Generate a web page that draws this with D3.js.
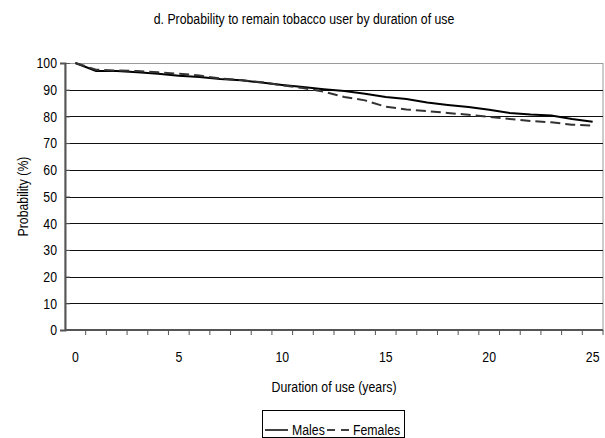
<!DOCTYPE html>
<html>
<head>
<meta charset="utf-8">
<script src="https://cdn.jsdelivr.net/npm/d3@7"></script>
<style>
  body { margin: 0; background: #fff; }
  svg text { font-family: "Liberation Sans", Arial, sans-serif; font-size: 15px; fill: #000; }
</style>
</head>
<body>
<div id="chart"></div>
<script>
// duration of use (years)
const years = d3.range(0, 26);
const males = [100, 97, 97, 96.5, 96, 95.2, 94.8, 94, 93.5, 92.7, 91.8, 91, 90.2, 89.5, 88.5, 87.3, 86.5, 85.2, 84.3, 83.5, 82.5, 81.3, 80.7, 80.3, 79, 78];
const females = [100, 97.5, 97.2, 97, 96.5, 96, 95.3, 94.2, 93.6, 92.8, 91.6, 90.6, 89.3, 87.3, 86, 83.6, 82.6, 82, 81.3, 80.6, 79.8, 79, 78.3, 77.8, 76.9, 76.5];
const yTicks = [0, 10, 20, 30, 40, 50, 60, 70, 80, 90, 100];
const xLabels = [0, 5, 10, 15, 20, 25];

const width = 605, height = 438;
const mLeft = 65, mRight = 603, mTop = 63, mBottom = 330;
const narrow = 0.82; // condensed look, no narrow font installed

const svg = d3.create("svg")
  .attr("width", width)
  .attr("height", height);

// text squeezed horizontally around its anchor point
function label(parent, x, y, txt, anchor, rot) {
  return parent.append("text")
    .attr("transform", "translate(" + x + "," + y + ")" + (rot ? " rotate(" + rot + ")" : "") + " scale(" + narrow + ",1)")
    .attr("text-anchor", anchor || "start")
    .text(txt);
}

const x = d3.scaleBand().domain(years).range([mLeft, mRight]).paddingInner(0).paddingOuter(0);
const y = d3.scaleLinear().domain([0, 100]).range([mBottom, mTop]);

// plot frame (top/right)
svg.append("rect")
  .attr("x", mLeft).attr("y", mTop + 0.5)
  .attr("width", mRight - mLeft).attr("height", mBottom - mTop)
  .attr("fill", "none").attr("stroke", "#999").attr("stroke-width", 1);

// gridlines
svg.append("g")
  .selectAll("line")
  .data(yTicks.filter(d => d > 0 && d < 100))
  .join("line")
  .attr("x1", mLeft).attr("x2", mRight)
  .attr("y1", d => Math.round(y(d)) + 0.5).attr("y2", d => Math.round(y(d)) + 0.5)
  .attr("stroke", "#111").attr("stroke-width", 1);

// y axis
const yAxis = svg.append("g")
  .attr("transform", "translate(" + mLeft + ",0)")
  .call(d3.axisLeft(y).tickValues(yTicks).tickSize(5).tickPadding(4));
yAxis.select(".domain").attr("stroke", "#555").attr("stroke-width", 2);
yAxis.selectAll(".tick line").attr("x2", 5).attr("stroke", "#555");
yAxis.selectAll("text")
  .attr("x", -8 / narrow)
  .attr("transform", "scale(" + narrow + ",1)")
  .style("font-size", "15px")
  .style("font-family", "Liberation Sans, Arial, sans-serif");

// x axis: ticks at category boundaries, labels every 5 years
const xAxis = svg.append("g").attr("transform", "translate(0," + mBottom + ")");
xAxis.append("line")
  .attr("x1", mLeft).attr("x2", mRight)
  .attr("stroke", "#555").attr("stroke-width", 2);
xAxis.selectAll(".tk")
  .data(years)
  .join("line")
  .attr("class", "tk")
  .attr("x1", d => x(d) + x.bandwidth()).attr("x2", d => x(d) + x.bandwidth())
  .attr("y1", 0).attr("y2", 5)
  .attr("stroke", "#555");
xLabels.forEach(d => label(xAxis, x(d) + x.bandwidth() / 2, 32, d, "middle"));

const line = d3.line()
  .x((d, i) => x(years[i]) + x.bandwidth() / 2)
  .y(d => y(d));

svg.append("path")
  .datum(males)
  .attr("d", line)
  .attr("fill", "none")
  .attr("stroke", "#000")
  .attr("stroke-width", 2);

svg.append("path")
  .datum(females)
  .attr("d", line)
  .attr("fill", "none")
  .attr("stroke", "#333")
  .attr("stroke-width", 2)
  .attr("stroke-dasharray", "10,5");

// titles
label(svg, 304, 24, "d. Probability to remain tobacco user by duration of use", "middle");
label(svg, (mLeft + mRight) / 2, 392, "Duration of use (years)", "middle");
label(svg, 28, (mTop + mBottom) / 2, "Probability (%)", "middle", -90);

// legend
const lg = svg.append("g").attr("transform", "translate(262,410)");
lg.append("rect")
  .attr("x", 0.5).attr("y", 0.5).attr("width", 142).attr("height", 27)
  .attr("fill", "#fff").attr("stroke", "#000");
lg.append("line").attr("x1", 3).attr("x2", 26).attr("y1", 20).attr("y2", 20)
  .attr("stroke", "#000").attr("stroke-width", 1.5);
label(lg, 30, 25, "Males");
lg.append("line").attr("x1", 65).attr("x2", 88).attr("y1", 20).attr("y2", 20)
  .attr("stroke", "#000").attr("stroke-width", 1.5).attr("stroke-dasharray", "8,6");
label(lg, 91, 25, "Females");

document.getElementById("chart").appendChild(svg.node());
</script>
</body>
</html>
